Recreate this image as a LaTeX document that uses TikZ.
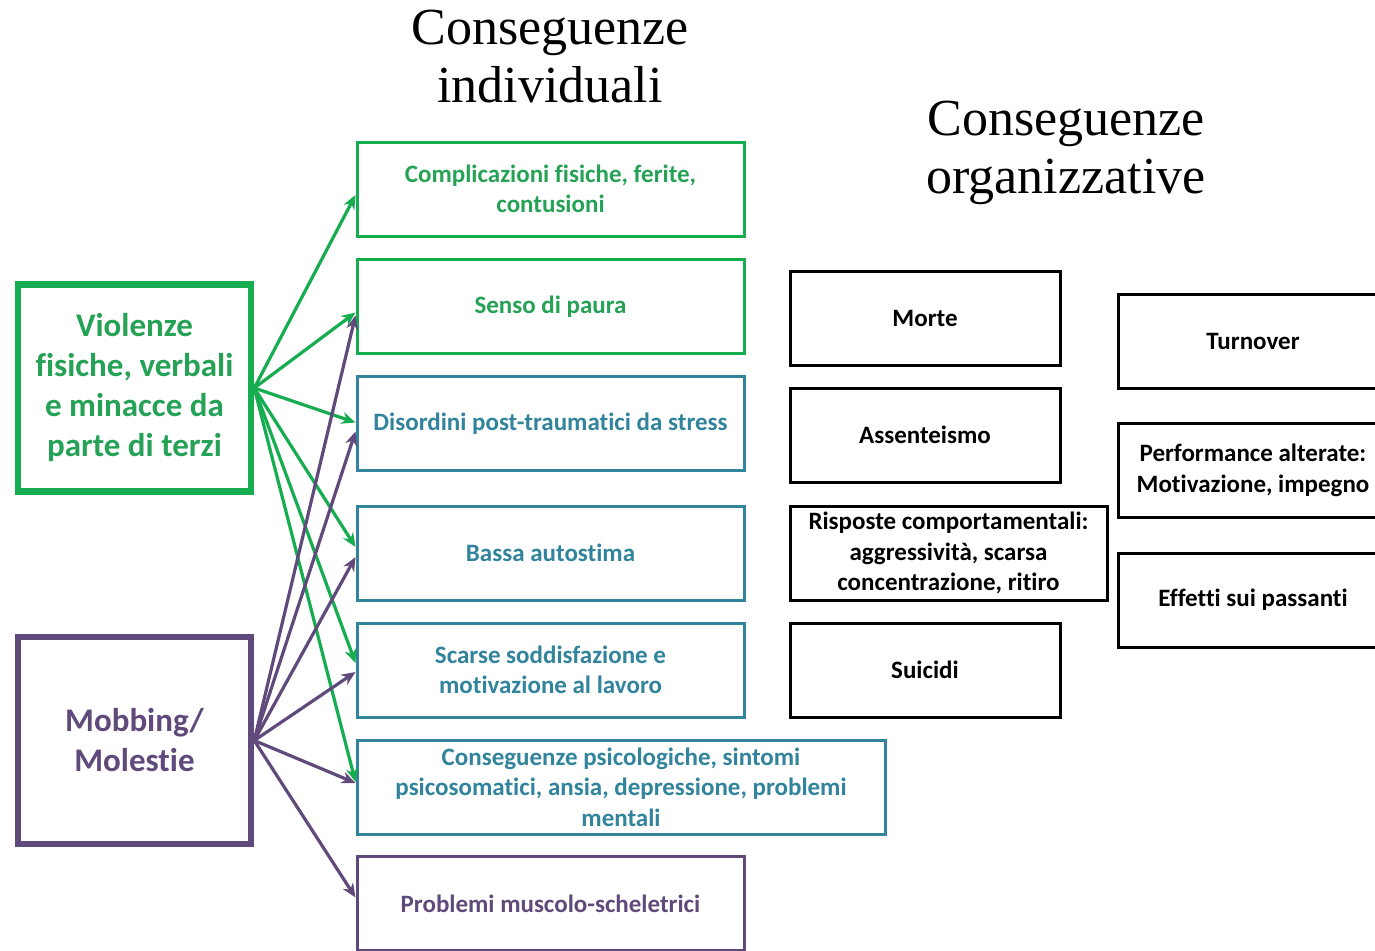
\documentclass[tikz,border=0pt]{standalone}
\usepackage{fontspec}
\setmainfont{Carlito}[RawFeature={-liga;-clig;-calt;-dlig}]
\newfontfamily\titlefont{Liberation Serif}
\usetikzlibrary{arrows.meta}
\definecolor{vgreen}{RGB}{22,172,80}
\definecolor{tgreen}{RGB}{38,162,86}
\definecolor{cteal}{RGB}{49,132,155}
\definecolor{cpurple}{RGB}{96,74,123}
\tikzset{
  box/.style={draw, line width=3pt, minimum height=94pt, minimum width=387pt, inner sep=2pt, align=center, font=\fontsize{25}{30.5}\selectfont\bfseries},
  srcbox/.style={draw, line width=6.5pt, minimum width=233pt, minimum height=207pt, inner sep=2pt, align=center, font=\fontsize{33}{40}\selectfont\bfseries},
  title/.style={inner sep=0pt, align=center, font=\titlefont\fontsize{52}{58}\selectfont},
  garrow/.style={draw=vgreen, line width=3.2pt, -{Stealth[length=14pt,width=12pt]}},
  parrow/.style={draw=cpurple, line width=3.2pt, -{Stealth[length=14pt,width=12pt]}}
}
\begin{document}
\begin{tikzpicture}[x=1pt,y=-1pt]
\useasboundingbox (0,0) rectangle (1375,950);
\clip (0,0) rectangle (1375,950);
\fill[white] (0,0) rectangle (1375,950);

\node[title] (t1) at (550,57) {Conseguenze\\individuali};
\node[title] (t2) at (1066,153) {Conseguenze\\organizzative};

\node[srcbox, draw=vgreen, text=tgreen] (v) at (134.5,388) {Violenze\\fisiche, verbali\\e minacce da\\parte di terzi};
\node[srcbox, draw=cpurple, text=cpurple] (m) at (134.5,740.5) {Mobbing/\\Molestie};

\node[box, draw=vgreen, text=tgreen] (b1) at (550.5,189) {Complicazioni fisiche, ferite,\\contusioni};
\node[box, draw=vgreen, text=tgreen] (b2) at (550.5,306.5) {Senso di paura};
\node[box, draw=cteal, text=cteal] (b3) at (550.5,423.5) {Disordini post-traumatici da stress};
\node[box, draw=cteal, text=cteal] (b4) at (550.5,553) {Bassa autostima};
\node[box, draw=cteal, text=cteal] (b5) at (550.5,670) {Scarse soddisfazione e\\motivazione al lavoro};
\node[box, draw=cteal, text=cteal, minimum width=528pt] (b6) at (621,787) {Conseguenze psicologiche, sintomi\\psicosomatici, ansia, depressione, problemi\\mentali};
\node[box, draw=cpurple, text=cpurple] (b7) at (550.5,903.5) {Problemi muscolo-scheletrici};

\node[box, draw=black, text=black, minimum width=270pt] (o1) at (925,318) {Morte};
\node[box, draw=black, text=black, minimum width=270pt] (o2) at (925,435) {Assenteismo};
\node[box, draw=black, text=black, minimum width=317pt] (o3) at (948.5,553) {Risposte comportamentali:\\aggressività, scarsa\\concentrazione, ritiro};
\node[box, draw=black, text=black, minimum width=270pt] (o4) at (925,670) {Suicidi};
\node[box, draw=black, text=black, minimum width=270pt] (o5) at (1253,341.5) {Turnover};
\node[box, draw=black, text=black, minimum width=270pt] (o6) at (1253,470.5) {Performance alterate:\\Motivazione, impegno};
\node[box, draw=black, text=black, minimum width=270pt] (o7) at (1253,600) {Effetti sui passanti};

\draw[garrow] (v.east) -- ([yshift=-6pt]b1.west);
\draw[garrow] (v.east) -- ([yshift=-6pt]b2.west);
\draw[garrow] (v.east) -- ([yshift=1pt]b3.west);
\draw[garrow] (v.east) -- ([yshift=6pt]b4.west);
\draw[garrow] (v.east) -- ([yshift=7pt]b5.west);
\draw[garrow] (v.east) -- ([yshift=5pt]b6.west);

\draw[parrow] (m.east) -- ([yshift=-9pt]b2.west);
\draw[parrow] (m.east) -- ([yshift=-8pt]b3.west);
\draw[parrow] (m.east) -- ([yshift=-4pt]b4.west);
\draw[parrow] (m.east) -- ([yshift=-2pt]b5.west);
\draw[parrow] (m.east) -- ([yshift=4pt]b6.west);
\draw[parrow] (m.east) -- ([yshift=6pt]b7.west);
\end{tikzpicture}
\end{document}
